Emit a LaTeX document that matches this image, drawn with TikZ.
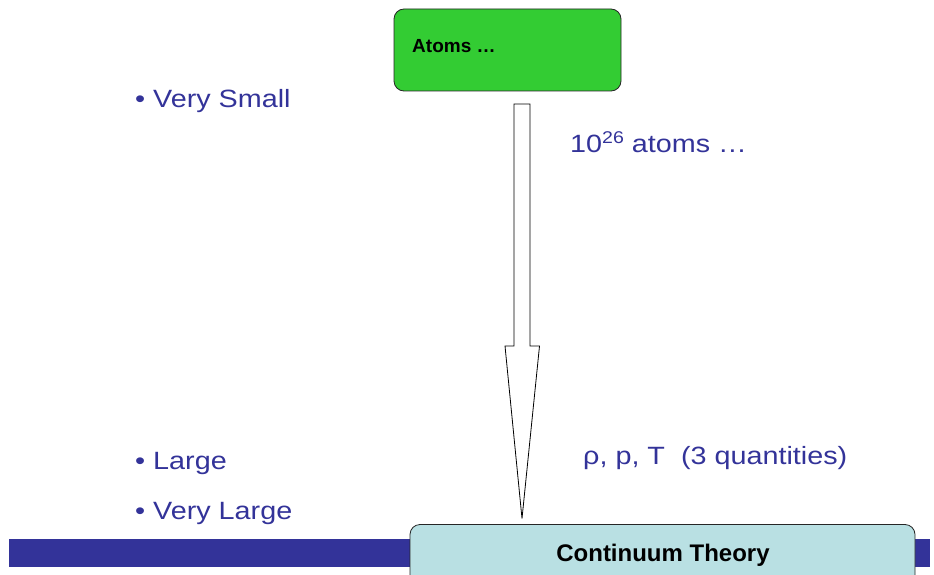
\documentclass[tikz,border=0pt]{standalone}
\usepackage{fontspec}
\usetikzlibrary{calc}
\setmainfont{Liberation Sans}
\newfontfamily\wideface{Liberation Sans}[FakeStretch=1.15]
\definecolor{slideblue}{RGB}{51,51,153}
\definecolor{atomgreen}{RGB}{51,204,51}
\definecolor{contcyan}{RGB}{185,224,227}
\tikzset{
  bodytext/.style={text=slideblue, font=\wideface\fontsize{25}{29}\selectfont, anchor=base west, inner sep=0pt},
  boxlabel/.style={text=black, font=\bfseries, inner sep=0pt},
  roundbox/.style={draw=black!85, line width=0.8pt, rounded corners=10pt},
}
\begin{document}
\begin{tikzpicture}[x=1pt,y=-1pt]
\useasboundingbox (0,0) rectangle (934,575);
% bottom bar
\fill[slideblue] (9,539) rectangle (930,566.5);
% boxes
\draw[roundbox, fill=atomgreen] (394,9) rectangle (621,91);
\node[boxlabel, anchor=base west, font=\bfseries\fontsize{19}{22}\selectfont] (atoms) at (412,52.5) {Atoms …};
\draw[roundbox, fill=contcyan] (410,524.5) rectangle (915,600);
\node[boxlabel, anchor=base, font=\bfseries\fontsize{24}{28}\selectfont] (cont) at (663,561) {Continuum Theory};
% block arrow
\coordinate (atop) at (522,104);
\coordinate (atip) at (522,518.5);
\draw[black, line width=0.8pt, fill=white, line join=miter]
  ($(atop)+(-8,0)$) -- ($(atop)+(8,0)$) -- ($(atop)+(8,242)$) -- ($(atop)+(17.5,242)$)
  -- (atip) -- ($(atop)+(-17,242)$) -- ($(atop)+(-8,242)$) -- cycle;
% texts
\node[bodytext] (vs) at (135,108) {• Very Small};
\node[bodytext] (lg) at (135,469) {• Large};
\node[bodytext] (vl) at (135,519) {• Very Large};
\node[bodytext] (num) at (570,153) {10\raisebox{0.38em}{\fontsize{17}{17}\selectfont 26} atoms …};
\node[bodytext] (qty) at (583,464) {ρ, p, T\ \ (3 quantities)};
\end{tikzpicture}
\end{document}
